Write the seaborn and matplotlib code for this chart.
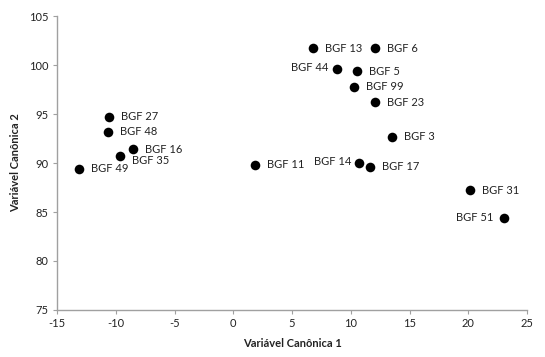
import matplotlib
matplotlib.use("Agg")
import matplotlib.pyplot as plt
import seaborn as sns
import pandas as pd

labels = ["BGF 13", "BGF 6", "BGF 44", "BGF 5", "BGF 99", "BGF 23", "BGF 3",
          "BGF 14", "BGF 17", "BGF 11", "BGF 27", "BGF 48", "BGF 16", "BGF 35",
          "BGF 49", "BGF 31", "BGF 51"]
x_vals = [6.8, 12.1, 8.8, 10.5, 10.3, 12.1, 13.5,
          10.7, 11.6, 1.85, -10.6, -10.7, -8.5, -9.6,
          -13.1, 20.15, 23.0]
y_vals = [101.7, 101.7, 99.6, 99.4, 97.8, 96.2, 92.7,
          90.0, 89.6, 89.8, 94.7, 93.2, 91.4, 90.7,
          89.4, 87.2, 84.4]
x_ticks = [-15, -10, -5, 0, 5, 10, 15, 20, 25]
y_ticks = [75, 80, 85, 90, 95, 100, 105]

df = pd.DataFrame({"label": labels, "x": x_vals, "y": y_vals})

sns.set_style("white")
plt.rcParams['font.family'] = ['Lato', 'DejaVu Sans']
plt.rcParams['axes.unicode_minus'] = False

fig = plt.figure(figsize=(5.45, 3.57), dpi=100)
ax = fig.add_axes([0.1046, 0.1317, 0.8624, 0.8233])
sns.scatterplot(data=df, x="x", y="y", ax=ax, color="black", s=48,
                edgecolor="black", linewidth=0, legend=False, zorder=3)

# label offsets in pixels (dx, dy)
left_labels = {"BGF 44": (-8, 1), "BGF 51": (-10, 0), "BGF 14": (-8, 2)}
special = {"BGF 35": (12, -4), "BGF 5": (12, -1)}
for _, r in df.iterrows():
    if r["label"] in left_labels:
        dx, dy = left_labels[r["label"]]
        ha = "right"
    else:
        dx, dy = special.get(r["label"], (12, 0))
        ha = "left"
    ax.annotate(r["label"], (r["x"], r["y"]), xytext=(dx * 0.72, dy * 0.72),
                textcoords="offset points", ha=ha, va="center",
                fontsize=8, color="#222222")

ax.set_xlim(-15, 25)
ax.set_ylim(75, 105)
ax.set_xticks(x_ticks)
ax.set_yticks(y_ticks)
ax.tick_params(axis="both", which="both", direction="out", length=3,
               color="#a0a0a0", labelsize=8, labelcolor="#222222", pad=3,
               bottom=True, left=True)
for side in ["top", "right"]:
    ax.spines[side].set_visible(False)
for side in ["left", "bottom"]:
    ax.spines[side].set_color("#a0a0a0")
    ax.spines[side].set_linewidth(1.0)
ax.set_xlabel("Variável Canônica 1", fontsize=8, fontweight="bold",
              color="#222222", labelpad=6)
ax.set_ylabel("Variável Canônica 2", fontsize=8, fontweight="bold",
              color="#222222", labelpad=6)

fig.savefig("out.png", dpi=100)
